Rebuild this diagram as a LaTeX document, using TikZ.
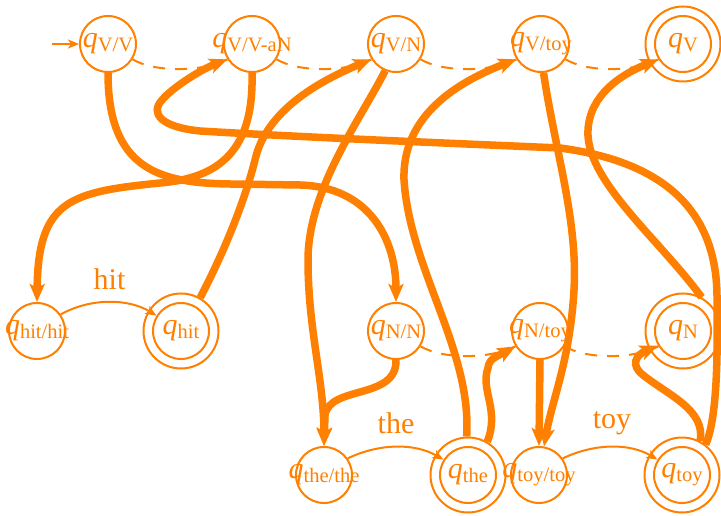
\documentclass[tikz,border=0pt]{standalone}
\usepackage{fontspec}
\setmainfont{Liberation Serif}
\usetikzlibrary{arrows.meta}
\definecolor{fsa}{RGB}{255,128,0}

% state label: italic q with an upright, lowered subscript; zero width so the circle keeps its size
\newcommand{\stname}[1]{\makebox[0pt][c]{\itshape q\raisebox{-4pt}{\fontsize{20.5}{20.5}\selectfont\upshape #1}}}

\tikzset{
  state/.style={circle, draw=fsa, line width=2pt, minimum size=56pt, inner sep=0pt,
                text=fsa, font=\fontsize{30}{30}\selectfont},
  ring/.style={circle, draw=fsa, line width=2pt, minimum size=75pt, inner sep=0pt},
  arc/.style={draw=fsa, line width=7.5pt, -{Stealth[length=18pt,width=15pt,inset=4pt]}},
  sym/.style={draw=fsa, line width=2pt, -{Stealth[length=11pt,width=9pt,inset=3pt]}},
  fail/.style={draw=fsa, line width=2pt, dash pattern=on 12pt off 10pt},
  word/.style={text=fsa, font=\fontsize{30}{30}\selectfont, anchor=base, inner sep=0pt}
}

\begin{document}
\begin{tikzpicture}[x=1pt,y=1pt]
\useasboundingbox (0,0) rectangle (721,-516);

% ---- states ----
\node[state] (VV)   at (108,-44) {\stname{V/V}};
\node[state] (VVaN) at (252,-44) {\stname{V/V-aN}};
\node[state] (VN)   at (396,-44) {\stname{V/N}};
\node[state] (Vtoy) at (541,-44) {\stname{V/toy}};
\node[state] (V)    at (683,-44) {\stname{V}};
\node[ring]  (Vr)   at (V) {};

\node[state] (hithit) at (37,-331)  {\stname{hit/hit}};
\node[state] (hit)    at (181,-331) {\stname{hit}};
\node[ring]  (hitr)   at (hit) {};
\node[state] (NN)     at (396,-331) {\stname{N/N}};
\node[state] (Ntoy)   at (540,-331) {\stname{N/toy}};
\node[state] (N)      at (683,-331) {\stname{N}};
\node[ring]  (Nr)     at (N) {};

\node[state] (thethe) at (324,-475) {\stname{the/the}};
\node[state] (the)    at (468,-475) {\stname{the}};
\node[ring]  (ther)   at (the) {};
\node[state] (toytoy) at (539,-475) {\stname{toy/toy}};
\node[state] (toy)    at (682,-475) {\stname{toy}};
\node[ring]  (toyr)   at (toy) {};

% ---- initial arrow ----
\coordinate (init) at (52,-44);
\draw[sym] (init) -- (VV);

% ---- dashed links ----
\draw[fail] (VV.-32)   .. controls +(22,-13) and +(-26,-13) .. (VVaN.212);
\draw[fail] (VVaN.-32) .. controls +(22,-13) and +(-26,-13) .. (VN.212);
\draw[fail] (VN.-32)   .. controls +(22,-13) and +(-26,-13) .. (Vtoy.212);
\draw[fail] (Vtoy.-32) .. controls +(22,-13) and +(-26,-13) .. (V.212);
\draw[fail] (NN.-32)   .. controls +(22,-13) and +(-26,-13) .. (Ntoy.212);
\draw[fail] (Ntoy.-32) .. controls +(22,-13) and +(-26,-13) .. (N.212);

% ---- symbol transitions ----
\draw[sym] (hithit.35) .. controls (90,-298) and (128,-298) .. (hit.148);
\node[word] (whit) at (109.5,-289) {hit};
\draw[sym] (thethe.35) .. controls (380,-443) and (415,-443) .. (the.148);
\node[word] (wthe) at (396,-433) {the};
\draw[sym] (toytoy.35) .. controls (595,-443) and (630,-443) .. (toy.148);
\node[word] (wtoy) at (612,-428) {toy};

% ---- thick transitions ----
\draw[arc] (VV.-90) .. controls (108,-170) and (160,-183) .. (230,-184)
           -- (300,-185) .. controls (370,-187) and (396,-240) .. (NN.90);
\draw[arc] (VVaN.-90) .. controls (254,-150) and (220,-178) .. (160,-183)
           .. controls (70,-192) and (38,-200) .. (hithit.90);
\draw[arc] (hitr.60) .. controls (225,-250) and (245,-200) .. (255,-160)
           .. controls (265,-115) and (310,-85) .. (VN.212);
\draw[arc] (toyr.52) .. controls (716,-420) and (718,-370) .. (717,-300)
           .. controls (718,-200) and (650,-160) .. (560,-148)
           .. controls (420,-142) and (300,-137) .. (200,-131)
           .. controls (160,-127) and (150,-113) .. (162,-100)
           .. controls (172,-88) and (200,-70) .. (VVaN.212);
\draw[arc] (VN.-112) .. controls (360,-120) and (308,-190) .. (308,-260)
           .. controls (308,-330) and (324,-380) .. (thethe.90);
\draw[arc] (NN.-90) .. controls (397,-400) and (330,-385) .. (325,-415) -- (thethe.90);
\draw[arc] (ther.92) .. controls (472,-350) and (410,-270) .. (404,-180)
           .. controls (402,-120) and (450,-85) .. (Vtoy.212);
\draw[arc] (ther.60) .. controls (500,-410) and (480,-390) .. (488,-368)
           .. controls (489,-358) and (498,-356) .. (Ntoy.212);
\draw[arc] (Vtoy.-85) .. controls (555,-150) and (578,-220) .. (574,-290)
           .. controls (570,-360) and (552,-400) .. (toytoy.80);
\draw[arc] (Ntoy.south) -- (toytoy.north);
\draw[arc] (Nr.61) .. controls (660,-240) and (585,-180) .. (588,-130)
           .. controls (590,-95) and (620,-75) .. (V.212);
\draw[arc] (toyr.62) .. controls (706,-410) and (668,-395) .. (643,-375)
           .. controls (630,-365) and (636,-355) .. (N.210);
\end{tikzpicture}
\end{document}
